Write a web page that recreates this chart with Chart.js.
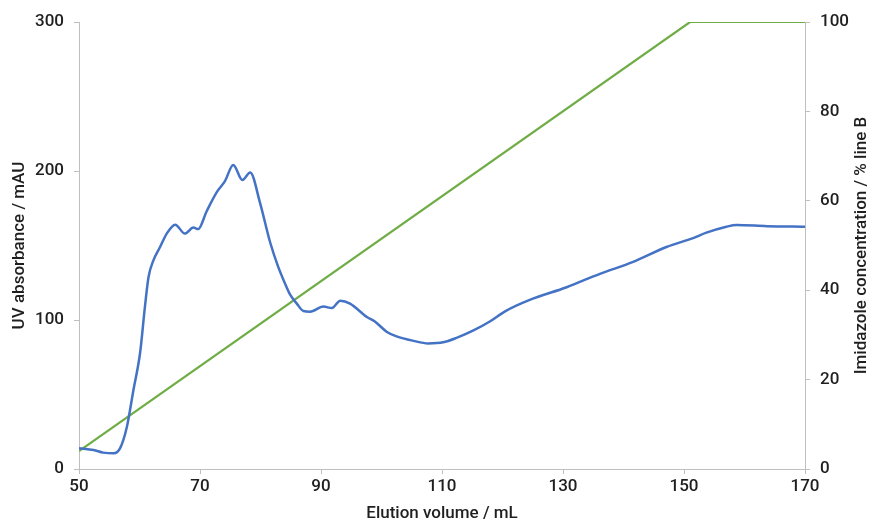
<!DOCTYPE html>
<html>
<head>
<meta charset="utf-8">
<script src="https://cdn.jsdelivr.net/npm/chart.js@4/dist/chart.umd.min.js"></script>
<style>
  html, body { margin: 0; padding: 0; background: #fff; }
  #wrap { width: 873px; height: 524px; }
</style>
</head>
<body>
<div id="wrap"><canvas id="chart" width="873" height="524"></canvas></div>
<script>
// elution volume (mL) and UV absorbance (mAU)
const volume = [50, 52.4, 54, 55.7, 56.8, 57.9, 59, 60.1, 60.9, 61.5, 62.3, 63.4, 64.5, 65.9, 67.5, 68.9, 69.7,
  71.1, 72.8, 74.1, 75.5, 77, 78.3, 79.9, 81.6, 82.9, 84, 84.9, 86, 87.1, 88.2, 90.4, 91.8, 93.2, 94.8,
  97.6, 98.9, 100.9, 102.5, 105.3, 107.7, 110.2, 112.4, 115.2, 117.9, 120.5, 124.5, 130.6, 136.1, 141.6,
  147.1, 151.5, 153.7, 157, 158.7, 163.7, 170];
const absorbance = [14, 12.8, 11, 10.5, 14, 28, 53, 78, 109, 129, 140, 149, 158, 164, 158, 162, 161,
  173, 186, 193, 204, 194, 199, 179, 152, 136, 125, 117, 111, 106, 105.6, 109, 108, 113, 111,
  102, 99, 92, 89, 86, 84.3, 85, 88, 93, 99, 106, 113.5, 122, 131, 139,
  149, 155, 158.6, 162.6, 163.8, 163, 162.6];

// imidazole gradient (% line B)
const gradVolume = [50, 151, 170];
const gradPercent = [4, 100, 100];

const xTicks = [50, 70, 90, 110, 130, 150, 170];

const axisColor = '#bfbfbf';
const textColor = '#1f1f1f';
const font = { family: 'Roboto', size: 17, weight: '500' };
const rightTitle = 'Imidazole concentration / % line B';

const uvData = volume.map((v, i) => ({ x: v, y: absorbance[i] }));
const gradData = gradVolume.map((v, i) => ({ x: v, y: gradPercent[i] }));

// right axis title reads bottom-to-top, chart.js turns it the other way
const rightTitlePlugin = {
  id: 'rightTitle',
  afterDraw(chart) {
    const { ctx, chartArea } = chart;
    ctx.save();
    ctx.translate(862, (chartArea.top + chartArea.bottom) / 2);
    ctx.rotate(-Math.PI / 2);
    ctx.font = '500 17px Roboto';
    ctx.fillStyle = textColor;
    ctx.textAlign = 'center';
    ctx.textBaseline = 'middle';
    ctx.fillText(rightTitle, 0, 0);
    ctx.restore();
  }
};

new Chart(document.getElementById('chart'), {
  type: 'line',
  data: {
    datasets: [{
      label: 'UV absorbance',
      data: uvData,
      yAxisID: 'y',
      borderColor: '#4472c4',
      borderWidth: 2.5,
      pointRadius: 0,
      cubicInterpolationMode: 'monotone'
    }, {
      label: 'Imidazole',
      data: gradData,
      yAxisID: 'y2',
      borderColor: '#70ad47',
      borderWidth: 2.2,
      pointRadius: 0,
      tension: 0
    }]
  },
  plugins: [rightTitlePlugin],
  options: {
    responsive: false,
    animation: false,
    layout: { padding: { top: 22, left: 0, right: 0, bottom: 0 } },
    plugins: { legend: { display: false }, tooltip: { enabled: false } },
    scales: {
      x: {
        type: 'linear',
        min: 50, max: 170,
        afterBuildTicks: s => { s.ticks = xTicks.map(v => ({ value: v })); },
        afterFit: s => { s.height = 55; },
        grid: { drawOnChartArea: false, color: axisColor, tickLength: 5 },
        border: { color: axisColor },
        ticks: { color: textColor, font: font, padding: 3, maxRotation: 0 },
        title: { display: true, text: 'Elution volume / mL', color: textColor, font: font, padding: { top: 0, bottom: 0 } }
      },
      y: {
        position: 'left',
        min: 0, max: 300,
        ticks: { stepSize: 100, color: textColor, font: font, padding: 10 },
        afterFit: s => { s.width = 79; },
        grid: { drawOnChartArea: false, color: axisColor, tickLength: 5 },
        border: { color: axisColor },
        title: { display: true, text: 'UV absorbance / mAU', color: textColor, font: font, padding: { top: 10, bottom: 0 } }
      },
      y2: {
        position: 'right',
        min: 0, max: 100,
        ticks: { stepSize: 20, color: textColor, font: font, padding: 10 },
        afterFit: s => { s.width = 68; },
        grid: { drawOnChartArea: false, color: axisColor, tickLength: 5 },
        border: { color: axisColor },
        title: { display: false }
      }
    }
  }
});
</script>
</body>
</html>
